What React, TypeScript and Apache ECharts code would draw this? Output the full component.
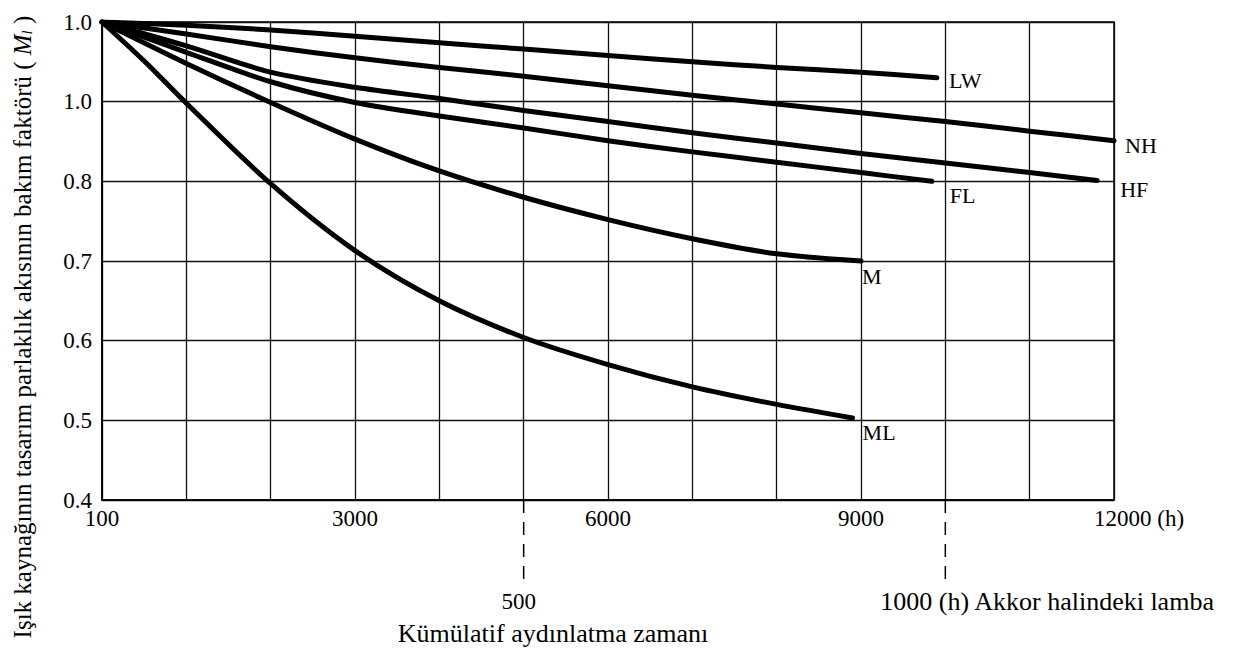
import React, { useEffect, useRef } from "react";
import * as echarts from "echarts";

const FONT = "Liberation Serif, Times New Roman, serif";

// Cumulative lighting time (h) and maintenance factor values per lamp type
const lwHours = [0, 1000, 2000, 3000, 4000, 5000, 6000, 7000, 8000, 9000, 9900];
const lwValues = [1.0, 0.996, 0.99, 0.982, 0.974, 0.966, 0.958, 0.95, 0.943, 0.937, 0.93];

const nhHours = [0, 1000, 2000, 3000, 4000, 5000, 6000, 7000, 8000, 9000, 10000, 11000, 12000];
const nhValues = [1.0, 0.985, 0.969, 0.955, 0.943, 0.932, 0.92, 0.908, 0.897, 0.886, 0.875, 0.863, 0.851];

const hfHours = [0, 1000, 2000, 3000, 4000, 5000, 6000, 7000, 8000, 9000, 10000, 11000, 11800];
const hfValues = [1.0, 0.97, 0.937, 0.918, 0.904, 0.889, 0.875, 0.861, 0.848, 0.835, 0.823, 0.811, 0.801];

const flHours = [0, 1000, 2000, 3000, 4000, 5000, 6000, 7000, 8000, 9000, 9840];
const flValues = [1.0, 0.962, 0.925, 0.899, 0.882, 0.867, 0.851, 0.837, 0.824, 0.811, 0.8];

const mHours = [0, 1000, 2000, 3000, 4000, 5000, 6000, 7000, 8000, 9000];
const mValues = [1.0, 0.948, 0.899, 0.853, 0.813, 0.78, 0.752, 0.728, 0.709, 0.7];

const mlHours = [0, 500, 1000, 2000, 3000, 4000, 5000, 6000, 7000, 8000, 8900];
const mlValues = [1.0, 0.951, 0.898, 0.797, 0.713, 0.65, 0.604, 0.57, 0.542, 0.52, 0.503];

const seriesNames = ["LW", "NH", "HF", "FL", "M", "ML"];
const seriesHours = [lwHours, nhHours, hfHours, flHours, mHours, mlHours];
const seriesValues = [lwValues, nhValues, hfValues, flValues, mValues, mlValues];
const labelOffsets = [[12, 3], [11, 5], [23, 9], [18, 14], [1, 15], [10, 15]];

const xTickValues = [0, 3000, 6000, 9000, 12000];
const xTickLabels = ["100", "3000", "6000", "9000", "12000 (h)"];
const yTickValues = [0.4, 0.5, 0.6, 0.7, 0.8, 0.9, 1.0];
const yTickLabels = ["0.4", "0.5", "0.6", "0.7", "0.8", "1.0", "1.0"];

const markerHours = [5000, 10000];
const markerLabels = ["500", "1000 (h) Akkor halindeki lamba"];

const xTitle = "Kümülatif aydınlatma zamanı";
const yTitle = "Işık kaynağının tasarım parlaklık akısının bakım faktörü ( ";

export default function App() {
  const ref = useRef<HTMLDivElement>(null);

  useEffect(() => {
    if (!ref.current) return;
    const chart = echarts.init(ref.current, null, { renderer: "svg" });

    const series = seriesNames.map((name, i) => ({
      name,
      type: "line",
      data: seriesHours[i].map((h, j) => [h, seriesValues[i][j]]),
      smooth: 0.3,
      symbol: "none",
      lineStyle: { color: "#000", width: 5, cap: "round", join: "round" },
      endLabel: {
        show: true,
        formatter: name,
        color: "#000",
        fontFamily: FONT,
        fontSize: 22,
        distance: 0,
        offset: labelOffsets[i],
        align: "left",
        verticalAlign: "middle",
      },
      z: 5,
    }));

    const option: any = {
      animation: false,
      backgroundColor: "#fff",
      textStyle: { fontFamily: FONT },
      grid: {
        left: 102,
        top: 22,
        right: 123,
        bottom: 151,
        show: true,
        borderColor: "#000",
        borderWidth: 1.5,
        backgroundColor: "transparent",
      },
      xAxis: {
        type: "value",
        min: 0,
        max: 12000,
        interval: 1000,
        axisLine: { show: true, lineStyle: { color: "#000", width: 1.5 } },
        axisTick: { show: false },
        splitLine: { show: true, lineStyle: { color: "#111", width: 1.3 } },
        axisLabel: {
          color: "#000",
          fontFamily: FONT,
          fontSize: 23,
          margin: 7,
          showMinLabel: true,
          showMaxLabel: true,
          formatter: (v: number) => {
            const i = xTickValues.indexOf(v);
            if (i < 0) return "";
            if (v === 12000) return "{p| }" + xTickLabels[i];
            return xTickLabels[i];
          },
          rich: { p: { width: 50 } },
        },
      },
      yAxis: {
        type: "value",
        min: 0.4,
        max: 1.0,
        interval: 0.1,
        axisLine: { show: true, lineStyle: { color: "#000", width: 1.5 } },
        axisTick: { show: false },
        splitLine: { show: true, lineStyle: { color: "#111", width: 1.3 } },
        axisLabel: {
          color: "#000",
          fontFamily: FONT,
          fontSize: 23,
          margin: 10,
          showMinLabel: true,
          showMaxLabel: true,
          formatter: (v: number) => {
            const i = yTickValues.findIndex((t) => Math.abs(t - v) < 1e-6);
            return i >= 0 ? yTickLabels[i] : "";
          },
        },
      },
      series,
    };

    chart.setOption(option);

    const yBottom = chart.convertToPixel({ yAxisIndex: 0 }, 0.4) as number;
    const graphics: any[] = [];
    markerHours.forEach((h, i) => {
      const px = chart.convertToPixel({ xAxisIndex: 0 }, h) as number;
      graphics.push({
        type: "line",
        shape: { x1: px, y1: yBottom, x2: px, y2: yBottom + 86 },
        style: { stroke: "#000", lineWidth: 1.5, lineDash: [13, 9] },
        silent: true,
      });
      graphics.push({
        type: "text",
        x: i === 0 ? px - 5 : px - 65,
        y: yBottom + 101,
        style: {
          text: markerLabels[i],
          fill: "#000",
          font: `${i === 0 ? 23 : 26}px ${FONT}`,
          align: i === 0 ? "center" : "left",
          verticalAlign: "middle",
        },
        silent: true,
      });
    });
    graphics.push({
      type: "text",
      x: 553,
      y: 633,
      style: {
        text: xTitle,
        fill: "#000",
        font: `26px ${FONT}`,
        align: "center",
        verticalAlign: "middle",
      },
      silent: true,
    });
    graphics.push({
      type: "text",
      x: 22,
      y: 327,
      rotation: Math.PI / 2,
      style: {
        text: yTitle + "{m|M}{s|l} )",
        fill: "#000",
        font: `25px ${FONT}`,
        align: "center",
        verticalAlign: "middle",
        rich: {
          m: { font: `italic 25px ${FONT}`, fill: "#000" },
          s: { font: `italic 15px ${FONT}`, fill: "#000", padding: [10, 0, 0, 0] },
        },
      },
      silent: true,
    });
    chart.setOption({ graphic: graphics });

    return () => chart.dispose();
  }, []);

  return (
    <div
      ref={ref}
      style={{ position: "fixed", left: 0, top: 0, width: 1237, height: 651, background: "#fff" }}
    />
  );
}
